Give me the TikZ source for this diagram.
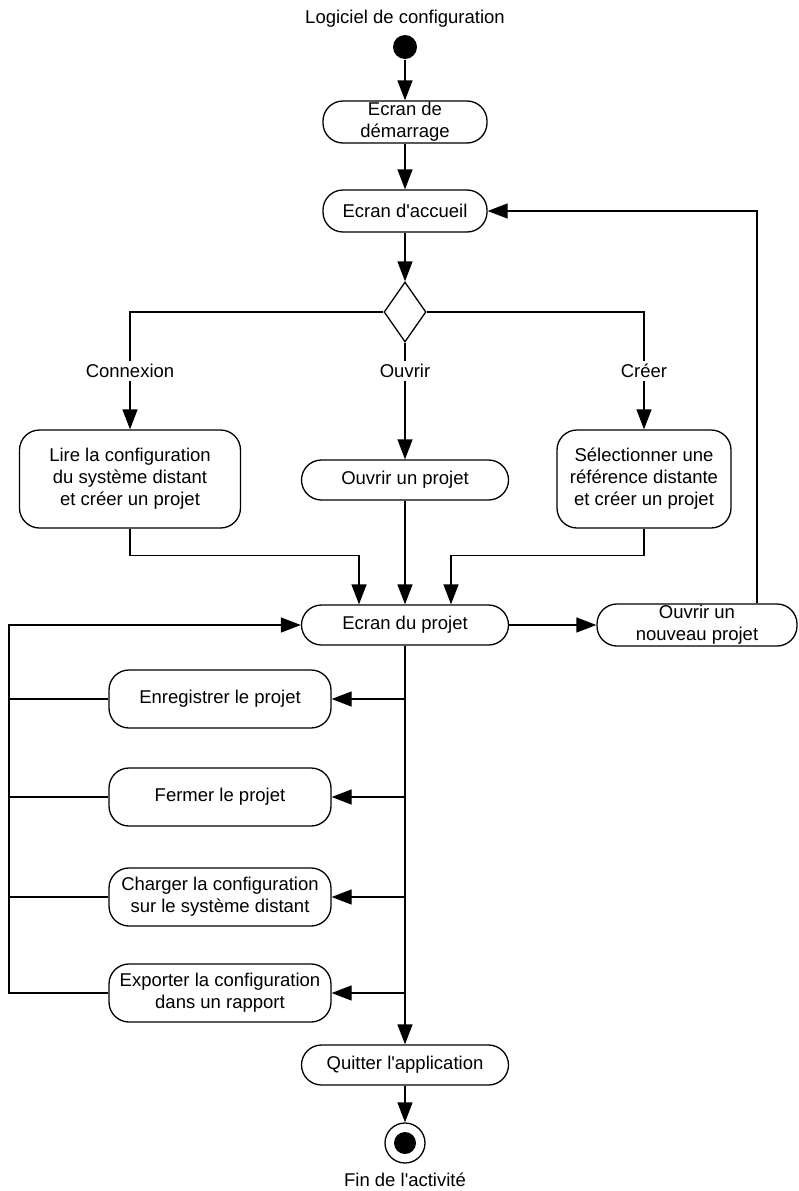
\documentclass[tikz,border=0pt]{standalone}
\usepackage{fontspec}
\setmainfont{Liberation Sans}
\usetikzlibrary{arrows.meta,shapes.geometric}
\begin{document}
\begin{tikzpicture}[x=1pt,y=-1pt,
  font=\fontsize{18.5}{22}\selectfont,
  line width=1.3pt,
  arr/.style={-{Triangle[length=20pt,width=15pt]}},
  act/.style={draw,rounded corners=20pt,align=center,inner sep=0pt},
  lbl/.style={fill=white,inner sep=3pt}]
\useasboundingbox (0,0) rectangle (798,1191);
% start
\node (title) at (405,19) {Logiciel de configuration};
\node (start) [circle,fill=black,minimum size=24pt,inner sep=0pt] at (405,47) {};
\node (dem) [act,minimum width=164pt,minimum height=42pt] at (405,122) {Ecran de\\démarrage};
\node (acc) [act,minimum width=164pt,minimum height=42pt] at (405,211) {Ecran d\textquotesingle accueil};
\node (dec) [draw,diamond,minimum width=42pt,minimum height=60pt,inner sep=0pt] at (405,312) {};
\node (lire) [act,minimum width=221pt,minimum height=98pt] at (130,479) {Lire la configuration\\du système distant\\et créer un projet};
\node (ouv) [act,minimum width=207pt,minimum height=40pt] at (405,480) {Ouvrir un projet};
\node (sel) [act,minimum width=174pt,minimum height=98pt] at (644,479) {Sélectionner une\\référence distante\\et créer un projet};
\node (ep) [act,minimum width=207pt,minimum height=40pt] at (405,625) {Ecran du projet};
\node (nouv) [act,minimum width=200pt,minimum height=42pt] at (697,625) {Ouvrir un\\nouveau projet};
\node (enr) [act,minimum width=222pt,minimum height=58pt] at (220,699) {Enregistrer le projet};
\node (fer) [act,minimum width=222pt,minimum height=58pt] at (220,797) {Fermer le projet};
\node (cha) [act,minimum width=222pt,minimum height=58pt] at (220,897) {Charger la configuration\\sur le système distant};
\node (exp) [act,minimum width=222pt,minimum height=58pt] at (220,993) {Exporter la configuration\\dans un rapport};
\node (quit) [act,minimum width=207pt,minimum height=40pt] at (405,1065) {Quitter l\textquotesingle application};
\node (fin) [draw,circle,minimum size=40pt,inner sep=0pt] at (405,1143) {};
\node (finin) [circle,fill=black,minimum size=22pt,inner sep=0pt] at (405,1143) {};
\node (fint) [inner sep=1pt] at (405,1180) {Fin de l\textquotesingle activité};
% coordinates
\coordinate (lp) at (9,625);
% connectors
\draw[arr] (start) -- (dem);
\draw[arr] (dem) -- (acc);
\draw[arr] (acc) -- (dec);
\draw[arr] (dec.west) -| (lire.north);
\draw[arr] (dec.south) -- (ouv.north);
\draw[arr] (dec.east) -| (sel.north);
\node[lbl] (l1) at (130,371) {Connexion};
\node[lbl] (l2) at (405,371) {Ouvrir};
\node[lbl] (l3) at (644,371) {Créer};
\draw[arr] (lire.south) -- ++(0,27) -| ([xshift=-46pt]ep.north);
\draw[arr] (ouv.south) -- (ep.north);
\draw[arr] (sel.south) -- ++(0,27) -| ([xshift=46pt]ep.north);
\draw[arr] (ep.east) -- (nouv.west);
\draw[arr] ([xshift=60pt]nouv.north) |- (acc.east);
\draw[arr] (ep.south) -- (quit.north);
\draw[arr] (ep.south |- enr.east) -- (enr.east);
\draw[arr] (ep.south |- fer.east) -- (fer.east);
\draw[arr] (ep.south |- cha.east) -- (cha.east);
\draw[arr] (ep.south |- exp.east) -- (exp.east);
\draw (enr.west) -- (lp |- enr.west);
\draw (fer.west) -- (lp |- fer.west);
\draw (cha.west) -- (lp |- cha.west);
\draw[arr] (exp.west) -- (lp |- exp.west) -- (lp) -- (ep.west);
\draw[arr] (quit) -- (fin);
\end{tikzpicture}
\end{document}
